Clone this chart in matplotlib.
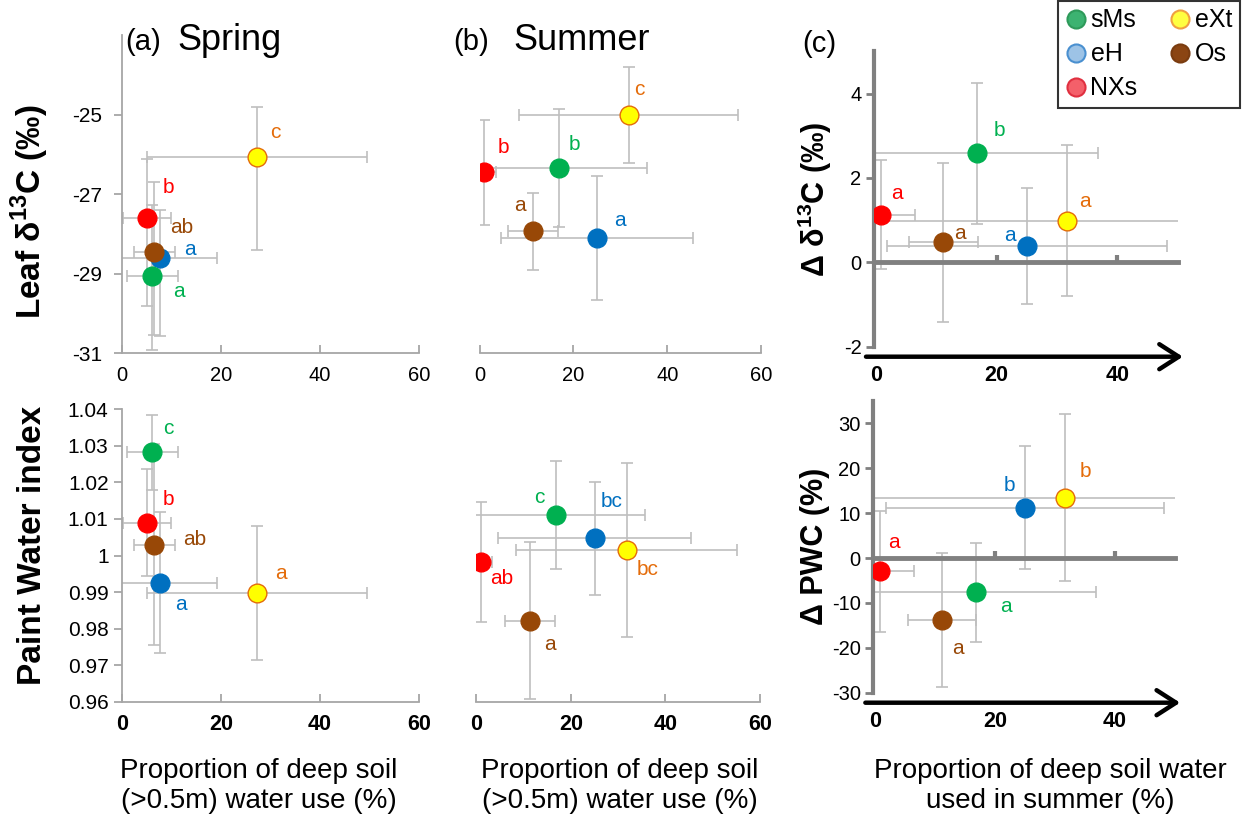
import numpy as np
import matplotlib.pyplot as plt
from matplotlib.lines import Line2D

plt.rcParams['font.family'] = ['Liberation Sans', 'DejaVu Sans']
plt.rcParams['mathtext.fontset'] = 'custom'
plt.rcParams['mathtext.rm'] = 'Liberation Sans'
plt.rcParams['mathtext.bf'] = 'Liberation Sans:bold'
plt.rcParams['axes.unicode_minus'] = False

W, H = 1242, 832

species = ['sMs', 'eH', 'NXs', 'eXt', 'Os']

# ---- (a) Spring ----
spring_use = [6.2, 7.7, 5.1, 27.3, 6.6]
spring_use_err = [5.1, 11.6, 4.8, 22.2, 4.1]
spring_d13c = [-29.06, -28.6, -27.6, -26.06, -28.45]
spring_d13c_err_lo = [1.85, 1.96, 2.2, 2.34, 2.1]
spring_d13c_err_hi = [1.8, 1.2, 1.5, 1.25, 1.75]
spring_pwi = [1.0282, 0.9926, 1.0090, 0.9897, 1.0029]
spring_pwi_err = [0.0102, 0.0192, 0.0146, 0.0184, 0.0275]
spring_d13c_sig = ['a', 'a', 'b', 'c', 'ab']
spring_pwi_sig = ['c', 'a', 'b', 'a', 'ab']

# ---- (b) Summer ----
summer_use = [16.9, 25.0, 1.0, 31.8, 11.3]
summer_use_err = [18.7, 20.5, 2.4, 23.4, 5.3]
summer_d13c = [-26.34, -28.11, -26.45, -25.0, -27.93]
summer_d13c_err = [1.48, 1.56, 1.33, 1.2, 0.97]
summer_pwi = [1.0110, 1.0047, 0.9982, 1.0014, 0.9822]
summer_pwi_err = [0.0148, 0.0154, 0.0165, 0.0238, 0.0215]
summer_d13c_sig = ['b', 'a', 'b', 'c', 'a']
summer_pwi_sig = ['c', 'bc', 'ab', 'bc', 'a']

# ---- (c) change summer vs spring ----
deep_use = [16.8, 25.0, 0.8, 31.7, 11.2]
deep_use_err = [20.0, 23.2, 5.7, 33.0, 5.7]
delta_d13c = [2.58, 0.39, 1.13, 0.98, 0.47]
delta_d13c_err = [1.68, 1.37, 1.3, 1.79, 1.88]
delta_pwc = [-7.6, 11.2, -3.0, 13.45, -13.8]
delta_pwc_err = [11.0, 13.7, 13.4, 18.6, 14.9]
delta_d13c_sig = ['b', 'a', 'a', 'a', 'a']
delta_pwc_sig = ['a', 'b', 'a', 'b', 'a']

pwi_ticks = [0.96, 0.97, 0.98, 0.99, 1.0, 1.01, 1.02, 1.03, 1.04]
pwi_ticklabels = ['0.96', '0.97', '0.98', '0.99', '1', '1.01', '1.02', '1.03', '1.04']

# styles
face = {'sMs': '#00b050', 'eH': '#0070c0', 'NXs': '#ff0000', 'eXt': '#ffff00', 'Os': '#984807'}
edge = {'sMs': '#00b050', 'eH': '#0070c0', 'NXs': '#ff0000', 'eXt': '#e46c0a', 'Os': '#984807'}
txtc = {'sMs': '#00b050', 'eH': '#0070c0', 'NXs': '#ff0000', 'eXt': '#e46c0a', 'Os': '#984807'}
draw_order = ['eH', 'sMs', 'NXs', 'Os', 'eXt']
AXC = '#a6a6a6'
ERRC = '#bfbfbf'

# letter offsets in pixels (dx, dy)
off_a1 = {'sMs': (26, -15), 'eH': (30, 8), 'NXs': (21, 31), 'eXt': (18, 24), 'Os': (27, 24)}
off_a2 = {'sMs': (16, 24), 'eH': (21, -22), 'NXs': (21, 23), 'eXt': (24, 20), 'Os': (40, 5)}
off_b1 = {'sMs': (16, 24), 'eH': (23, 18), 'NXs': (19, 25), 'eXt': (11, 25), 'Os': (-13, 26)}
off_b2 = {'sMs': (-17, 18), 'eH': (17, 37), 'NXs': (21, -16), 'eXt': (21, -19), 'Os': (20, -24)}
off_c1 = {'sMs': (22, 23), 'eH': (-17, 10), 'NXs': (16, 21), 'eXt': (18, 19), 'Os': (17, 9)}
off_c2 = {'sMs': (30, -14), 'eH': (-16, 22), 'NXs': (14, 29), 'eXt': (20, 26), 'Os': (16, -29)}

fig = plt.figure(figsize=(W / 100, H / 100), dpi=100)


def add_axes(l, t, r, b):
    return fig.add_axes([l / W, 1 - b / H, (r - l) / W, (b - t) / H])


def draw_points(ax, x, xerr, y, yerr, sig, offs):
    for sp in draw_order:
        i = species.index(sp)
        ax.errorbar(x[i], y[i], xerr=xerr[i], yerr=yerr[i], fmt='none', ecolor=ERRC,
                    elinewidth=1.2, capsize=4, capthick=1.2, zorder=1)
    for sp in draw_order:
        i = species.index(sp)
        ax.plot(x[i], y[i], 'o', ms=13.5, mfc=face[sp], mec=edge[sp], mew=1, zorder=3)
        ax.annotate(sig[i], (x[i], y[i]), xytext=offs[sp], textcoords='offset pixels',
                    ha='center', va='center', fontsize=15, color=txtc[sp], zorder=4)


def style_ab(ax, left_spine, bold_x):
    for s in ['top', 'right']:
        ax.spines[s].set_visible(False)
    ax.spines['bottom'].set_color(AXC)
    ax.spines['bottom'].set_linewidth(1.3)
    ax.spines['left'].set_color(AXC)
    ax.spines['left'].set_linewidth(1.3)
    ax.set_xlim(0, 60)
    ax.set_xticks([0, 20, 40, 60])
    ax.tick_params(axis='x', direction='in', length=6, width=1.3, color=AXC, pad=9,
                   labelsize=15.5 if bold_x else 14.5)
    if bold_x:
        for t in ax.get_xticklabels():
            t.set_fontweight('bold')
    if not left_spine:
        ax.spines['left'].set_visible(False)
        ax.tick_params(axis='y', left=False, labelleft=False)
    else:
        ax.tick_params(axis='y', direction='out', length=6, width=1.3, color=AXC, labelsize=15)


# (a) spring, leaf d13C
axA1 = add_axes(121.7, 35.3, 419.3, 353.3)
spring_d13c_err = [[[lo], [hi]] for lo, hi in zip(spring_d13c_err_lo, spring_d13c_err_hi)]
draw_points(axA1, spring_use, spring_use_err, spring_d13c, spring_d13c_err, spring_d13c_sig, off_a1)
axA1.set_ylim(-31, -23)
axA1.set_yticks([-31, -29, -27, -25])
style_ab(axA1, True, False)
axA1.tick_params(axis='y', pad=8)

# (b) summer, leaf d13C
axB1 = add_axes(479.7, 35.3, 761, 353.3)
draw_points(axB1, summer_use, summer_use_err, summer_d13c, summer_d13c_err, summer_d13c_sig, off_b1)
axB1.set_ylim(-31, -23)
style_ab(axB1, False, False)

# (a) spring, plant water index
axA2 = add_axes(121.7, 409.3, 419.3, 701.7)
draw_points(axA2, spring_use, spring_use_err, spring_pwi, spring_pwi_err, spring_pwi_sig, off_a2)
axA2.set_ylim(0.96, 1.04)
axA2.set_yticks(pwi_ticks)
axA2.set_yticklabels(pwi_ticklabels)
style_ab(axA2, True, True)

# (b) summer, plant water index
axB2 = add_axes(476.3, 409.3, 760, 701.7)
draw_points(axB2, summer_use, summer_use_err, summer_pwi, summer_pwi_err, summer_pwi_sig, off_b2)
axB2.set_ylim(0.96, 1.04)
style_ab(axB2, False, True)


def style_c(ax, ylim, yticks, height_px):
    ax.set_xlim(-0.3, 50)
    ax.set_ylim(*ylim)
    ax.set_yticks(yticks)
    for s in ['top', 'right']:
        ax.spines[s].set_visible(False)
    ax.spines['left'].set_color('#808080')
    ax.spines['left'].set_linewidth(3)
    ax.spines['bottom'].set_position(('data', 0))
    ax.spines['bottom'].set_color('#808080')
    ax.spines['bottom'].set_linewidth(3.5)
    ax.set_xticks([20, 40])
    ax.tick_params(axis='x', direction='in', length=5, width=3, color='#808080', labelbottom=False)
    ax.tick_params(axis='y', direction='out', length=6, width=2, color='#808080', labelsize=14.5,
                   pad=3)
    loc = -10 / height_px
    sec = ax.secondary_xaxis(loc)
    sec.set_xticks([0, 20, 40], labels=['0', '20', '40'])
    sec.tick_params(length=0, pad=6, labelsize=15.5)
    for t in sec.get_xticklabels():
        t.set_fontweight('bold')
    sec.spines['bottom'].set_visible(False)
    ax.annotate('', xy=(1.017, loc), xytext=(-0.026, loc), xycoords='axes fraction',
                textcoords='axes fraction', annotation_clip=False,
                arrowprops=dict(arrowstyle='->,head_length=0.7,head_width=0.45', lw=3.2,
                                color='black', shrinkA=0, shrinkB=0, mutation_scale=20))


axC1 = add_axes(873.9, 51.3, 1177.7, 346.7)
draw_points(axC1, deep_use, deep_use_err, delta_d13c, delta_d13c_err, delta_d13c_sig, off_c1)
style_c(axC1, (-2, 5), [-2, 0, 2, 4], 346.7 - 51.3)

axC2 = add_axes(873.2, 400.9, 1175, 692.7)
draw_points(axC2, deep_use, deep_use_err, delta_pwc, delta_pwc_err, delta_pwc_sig, off_c2)
style_c(axC2, (-30, 35), [-30, -20, -10, 0, 10, 20, 30], 692.7 - 400.9)

# titles
fig.text(125 / W, 1 - 50 / H, '(a)', fontsize=21, va='baseline')
fig.text(177 / W, 1 - 50 / H, 'Spring', fontsize=26, va='baseline')
fig.text(453 / W, 1 - 50 / H, '(b)', fontsize=21, va='baseline')
fig.text(513 / W, 1 - 50 / H, 'Summer', fontsize=26, va='baseline')
fig.text(802 / W, 1 - 52 / H, '(c)', fontsize=21, va='baseline')

# y labels
fig.text(30 / W, 1 - 212 / H, r'Leaf δ$^{\mathbf{13}}$C (‰)', rotation=90, fontsize=24,
         fontweight='bold', ha='center', va='center')
fig.text(33 / W, 1 - 545 / H, 'Paint Water index', rotation=90, fontsize=24,
         fontweight='bold', ha='center', va='center')
fig.text(815 / W, 1 - 199 / H, r'Δ δ$^{\mathbf{13}}$C (‰)', rotation=90, fontsize=22,
         fontweight='bold', ha='center', va='center')
fig.text(815 / W, 1 - 546 / H, 'Δ PWC (%)', rotation=90, fontsize=22,
         fontweight='bold', ha='center', va='center')

# x labels
fig.text(259 / W, 1 - 786 / H, 'Proportion of deep soil\n(>0.5m) water use (%)',
         ha='center', va='center', fontsize=20, linespacing=1.15)
fig.text(620 / W, 1 - 786 / H, 'Proportion of deep soil\n(>0.5m) water use (%)',
         ha='center', va='center', fontsize=20, linespacing=1.15)
fig.text(1050 / W, 1 - 786 / H, 'Proportion of deep soil water\nused in summer (%)',
         ha='center', va='center', fontsize=20, linespacing=1.15)

# legend
leg_face = {'sMs': '#3cb371', 'eH': '#9dc3e6', 'NXs': '#f4606a', 'eXt': '#ffff40', 'Os': '#8b4513'}
leg_edge = {'sMs': '#2e9a5a', 'eH': '#4a90d0', 'NXs': '#e03040', 'eXt': '#f0a040', 'Os': '#7a3c10'}
handles = [Line2D([], [], ls='none', marker='o', ms=13, mfc=leg_face[s], mec=leg_edge[s], mew=1.5)
           for s in species]
leg = fig.legend(handles, species, ncol=2, loc='upper right', bbox_to_anchor=(1240 / W, 0.999),
                 fontsize=18, frameon=True, fancybox=False, edgecolor='black',
                 handletextpad=0.2, columnspacing=1.3, borderpad=0.3, labelspacing=0.4,
                 handlelength=0.8, borderaxespad=0)
leg.get_frame().set_linewidth(1.5)

fig.savefig('out.png', dpi=100)
